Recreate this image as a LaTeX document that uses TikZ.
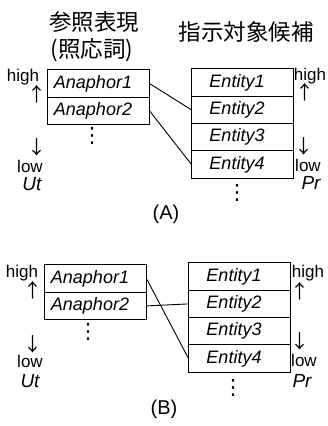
\documentclass[tikz,border=0pt]{standalone}
\usepackage{fontspec}
\setmainfont{Liberation Sans}
\newfontfamily\jpfont{Noto Sans CJK JP}
\newfontfamily\symfont{DejaVu Sans}
\usetikzlibrary{positioning}

\tikzset{
  cell/.style={draw, line width=1pt, minimum width=102pt, minimum height=27.3pt,
    inner sep=0pt, outer sep=0pt, font=\fontsize{18}{18}\selectfont\itshape,
    execute at end node={\hspace{11pt}}},
  link/.style={line width=0.9pt},
  side/.style={font=\fontsize{17}{17}\selectfont, inner sep=0pt},
  pointer/.style={font=\jpfont\fontsize{19}{19}\selectfont, inner sep=0pt,
    text height=13pt, text depth=0pt},
  rank/.style={font=\fontsize{19}{19}\selectfont\itshape, inner sep=0pt},
  more/.style={font=\symfont\fontsize{21}{21}\selectfont, inner sep=0pt},
  head/.style={font=\jpfont\fontsize{22.5}{22.5}\selectfont, inner sep=0pt},
  tag/.style={font=\fontsize{20}{20}\selectfont, inner sep=0pt}
}

\begin{document}
\begin{tikzpicture}[x=1pt, y=1pt, yscale=-1]
\useasboundingbox (0,0) rectangle (328,426);

% headings
\node[head] (headUt) at (94,22) {参照表現};
\node[head] (headUtSub) at (92,50) {(照応詞)};
\node[head] (headPr) at (246,32) {指示対象候補};

% (A)
\node[cell] (a1A) at (98.5,83.5) {Anaphor1};
\node[cell, below=0pt of a1A] (a2A) {Anaphor2};
\node[more] (adotsA) at (92,136) {⋮};

\node[cell] (e1A) at (242.5,82.6) {Entity1};
\node[cell, below=0pt of e1A] (e2A) {Entity2};
\node[cell, below=0pt of e2A] (e3A) {Entity3};
\node[cell, below=0pt of e3A] (e4A) {Entity4};
\node[more] (edotsA) at (237,193) {⋮};

\node[side] (highUtA) at (23,77) {high};
\node[pointer] (upUtA) at (37,95) {↑};
\node[pointer] (downUtA) at (37,148) {↓};
\node[side] (lowUtA) at (30,166) {low};
\node[rank] (utA) at (32,184) {Ut};

\node[side] (highPrA) at (310,76) {high};
\node[pointer] (upPrA) at (305,93) {↑};
\node[pointer] (downPrA) at (304,147) {↓};
\node[side] (lowPrA) at (308,165) {low};
\node[rank] (prA) at (311,183) {Pr};

\draw[link] (a1A.east) -- (e2A.west);
\draw[link] (a2A.east) -- (e4A.west);

\node[tag] (capA) at (166,214) {(A)};

% (B)
\node[cell] (a1B) at (95.5,278.6) {Anaphor1};
\node[cell, below=0pt of a1B] (a2B) {Anaphor2};
\node[more] (adotsB) at (88,332) {⋮};

\node[cell] (e1B) at (239.5,276.6) {Entity1};
\node[cell, below=0pt of e1B] (e2B) {Entity2};
\node[cell, below=0pt of e2B] (e3B) {Entity3};
\node[cell, below=0pt of e3B] (e4B) {Entity4};
\node[more] (edotsB) at (233,388) {⋮};

\node[side] (highUtB) at (22,273) {high};
\node[pointer] (upUtB) at (33,291) {↑};
\node[pointer] (downUtB) at (33,345) {↓};
\node[side] (lowUtB) at (30,361) {low};
\node[rank] (utB) at (30,381) {Ut};

\node[side] (highPrB) at (308,273) {high};
\node[pointer] (upPrB) at (300,292) {↑};
\node[pointer] (downPrB) at (300,342) {↓};
\node[side] (lowPrB) at (304,360) {low};
\node[rank] (prB) at (302,381) {Pr};

\draw[link] (a1B.east) -- (e4B.west);
\draw[link] (a2B.east) -- (e2B.west);

\node[tag] (capB) at (164,409) {(B)};

\end{tikzpicture}
\end{document}
